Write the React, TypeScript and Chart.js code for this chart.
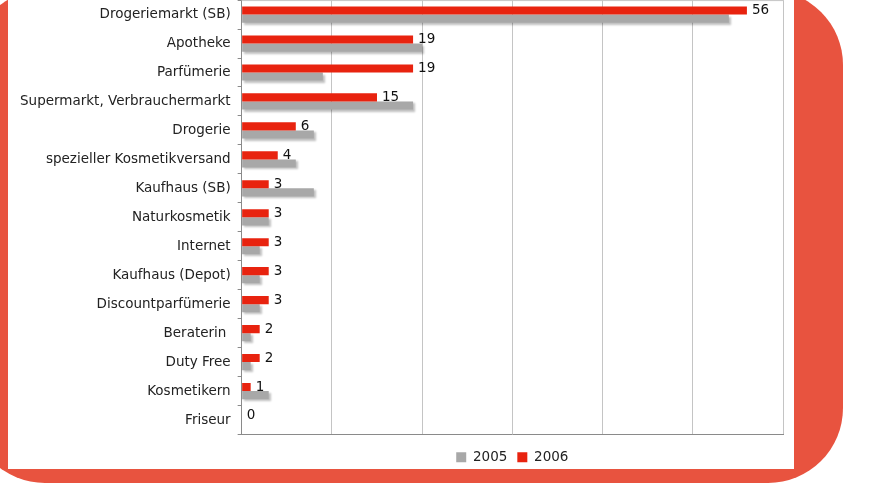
import React, { useEffect, useRef } from "react";
import { Chart, registerables } from "chart.js";

Chart.register(...registerables);

const categories = [
  "Drogeriemarkt (SB)",
  "Apotheke",
  "Parfümerie",
  "Supermarkt, Verbrauchermarkt",
  "Drogerie",
  "spezieller Kosmetikversand",
  "Kaufhaus (SB)",
  "Naturkosmetik",
  "Internet",
  "Kaufhaus (Depot)",
  "Discountparfümerie",
  "Beraterin ",
  "Duty Free",
  "Kosmetikern",
  "Friseur",
];
const values2005 = [54, 20, 9, 19, 8, 6, 8, 3, 2, 2, 2, 1, 1, 3, 0];
const values2006 = [56, 19, 19, 15, 6, 4, 3, 3, 3, 3, 3, 2, 2, 1, 0];
const seriesNames = ["2005", "2006"];
const xMax = 60;
const xStep = 10;

const RED = "#e8230f";
const GRAY = "#a8a8a8";
const FONT = "'DejaVu Sans', Verdana, sans-serif";
const FS = 13.5;

const shadowPlugin = {
  id: "grayShadow",
  beforeDatasetDraw(chart: any, args: any) {
    if (args.index === 1) {
      const ctx = chart.ctx;
      ctx.save();
      ctx.shadowColor = "rgba(0,0,0,0.25)";
      ctx.shadowOffsetX = 2;
      ctx.shadowOffsetY = 2;
      ctx.shadowBlur = 2;
    }
  },
  afterDatasetDraw(chart: any, args: any) {
    if (args.index === 1) chart.ctx.restore();
  },
};

const labelPlugin = {
  id: "valueLabels",
  afterDatasetsDraw(chart: any) {
    const ctx = chart.ctx;
    const meta = chart.getDatasetMeta(0);
    const data = chart.data.datasets[0].data;
    ctx.save();
    ctx.font = `${FS}px ${FONT}`;
    ctx.fillStyle = "#111";
    ctx.textBaseline = "middle";
    ctx.textAlign = "left";
    meta.data.forEach((el: any, i: number) => {
      ctx.fillText(String(data[i]), el.x + 5, el.y);
    });
    ctx.restore();
  },
};

const topBorderPlugin = {
  id: "topBorder",
  afterDraw(chart: any) {
    const { ctx, chartArea } = chart;
    ctx.save();
    ctx.strokeStyle = "#c4c4c4";
    ctx.lineWidth = 1;
    ctx.beginPath();
    ctx.moveTo(chartArea.left, chartArea.top + 0.5);
    ctx.lineTo(chartArea.right, chartArea.top + 0.5);
    ctx.stroke();
    ctx.restore();
  },
};

export default function App() {
  const ref = useRef<HTMLCanvasElement | null>(null);

  useEffect(() => {
    if (!ref.current) return;
    const chart = new Chart(ref.current, {
      type: "bar",
      data: {
        labels: categories,
        datasets: [
          {
            label: seriesNames[1],
            data: values2006,
            backgroundColor: RED,
            categoryPercentage: 0.56,
            barPercentage: 1.0,
          },
          {
            label: seriesNames[0],
            data: values2005,
            backgroundColor: GRAY,
            categoryPercentage: 0.56,
            barPercentage: 1.0,
          },
        ],
      },
      options: {
        indexAxis: "y",
        animation: false,
        responsive: false,
        maintainAspectRatio: false,
        layout: { autoPadding: false, padding: { top: 0, right: 11, bottom: 0, left: 5 } },
        scales: {
          x: {
            min: 0,
            max: xMax,
            ticks: { display: false, stepSize: xStep },
            grid: {
              color: "#c4c4c4",
              drawTicks: true,
              tickLength: 6,
              tickColor: "rgba(0,0,0,0)",
            },
            border: { color: "#8a8a8a" },
          },
          y: {
            grid: {
              drawOnChartArea: false,
              drawTicks: true,
              tickLength: 4,
              offset: true,
              color: "#8a8a8a",
            },
            border: { color: "#8a8a8a" },
            ticks: {
              color: "#222",
              padding: 7,
              font: { family: FONT, size: FS },
            },
          },
        },
        plugins: {
          legend: {
            position: "bottom",
            fullSize: false,
            labels: {
              boxWidth: 10,
              boxHeight: 10,
              padding: 10,
              color: "#222",
              font: { family: FONT, size: FS },
              sort: (a: any, b: any) => b.datasetIndex - a.datasetIndex,
            },
          },
          tooltip: { enabled: false },
        },
      },
      plugins: [shadowPlugin, labelPlugin, topBorderPlugin],
    });
    return () => chart.destroy();
  }, []);

  return (
    <div
      style={{
        position: "fixed",
        left: 0,
        top: 0,
        width: 896,
        height: 502,
        overflow: "hidden",
        background: "#ffffff",
      }}
    >
      <div
        style={{
          position: "absolute",
          left: -30,
          top: -10,
          width: 873,
          height: 493,
          borderRadius: 75,
          background: "#e8533f",
        }}
      />
      <div
        style={{
          position: "absolute",
          left: 8,
          top: 0,
          width: 786,
          height: 469,
          background: "#ffffff",
        }}
      />
      <canvas
        ref={ref}
        width={786}
        height={489}
        style={{ position: "absolute", left: 8, top: -15, width: 786, height: 489 }}
      />
    </div>
  );
}
